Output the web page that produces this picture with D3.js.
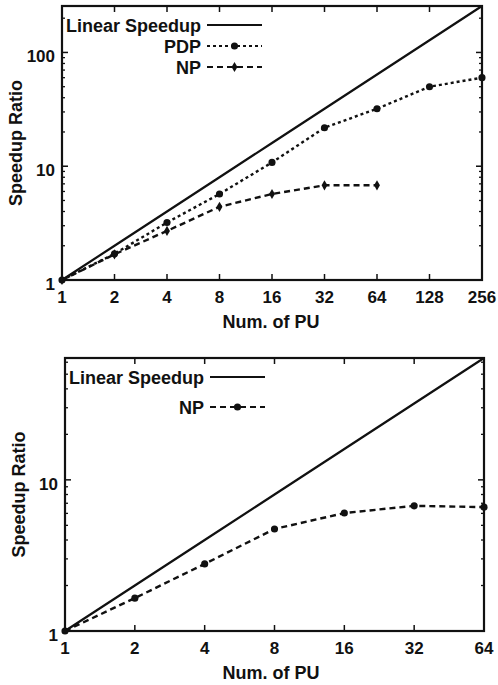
<!DOCTYPE html>
<html>
<head>
<meta charset="utf-8">
<script src="https://cdn.jsdelivr.net/npm/d3@7"></script>
<style>
  body { margin: 0; background: #fff; }
  svg text { font-family: "Liberation Sans", Arial, Helvetica, sans-serif; font-weight: bold; fill: #111; }
</style>
</head>
<body>
<svg id="fig" width="498" height="685"></svg>
<script>
// top chart data
const topPU = [1, 2, 4, 8, 16, 32, 64, 128, 256]
const topPDP = [1, 1.7, 3.2, 5.7, 10.8, 21.8, 32, 50, 60]
const topNPx = [1, 2, 4, 8, 16, 32, 64]
const topNP = [1, 1.68, 2.7, 4.4, 5.7, 6.8, 6.8]
const topYTicks = [1, 10, 100]

// bottom chart data
const botPU = [1, 2, 4, 8, 16, 32, 64]
const botNP = [1, 1.65, 2.78, 4.73, 6.03, 6.73, 6.6]
const botYTicks = [1, 10]

const svg = d3.select("#fig")
const ink = "#111"

function drawChart(cfg) {
    const x = d3.scaleLog().base(2).domain([1, cfg.maxX]).range([cfg.left, cfg.right])
    const y = d3.scaleLog().domain([1, cfg.maxX]).range([cfg.bottom, cfg.top])
    const g = svg.append("g")

    // minor y ticks (left and right, inward)
    const minors = []
    for (let dec = 1; dec < cfg.maxX; dec *= 10) {
        for (let k = 2; k <= 9; k++) if (dec * k <= cfg.maxX) minors.push(dec * k)
    }
    g.selectAll(".minL").data(minors).join("line")
        .attr("x1", cfg.left).attr("x2", cfg.left + 3)
        .attr("y1", d => y(d)).attr("y2", d => y(d))
        .attr("stroke", ink).attr("stroke-width", 1.3)
    g.selectAll(".minR").data(minors).join("line")
        .attr("x1", cfg.right).attr("x2", cfg.right - 3)
        .attr("y1", d => y(d)).attr("y2", d => y(d))
        .attr("stroke", ink).attr("stroke-width", 1.3)
    g.selectAll(".majL").data(cfg.yTicks).join("line")
        .attr("x1", cfg.left).attr("x2", cfg.left + 6)
        .attr("y1", d => y(d)).attr("y2", d => y(d))
        .attr("stroke", ink).attr("stroke-width", 1.5)
    g.selectAll(".majR").data(cfg.yTicks).join("line")
        .attr("x1", cfg.right).attr("x2", cfg.right - 6)
        .attr("y1", d => y(d)).attr("y2", d => y(d))
        .attr("stroke", ink).attr("stroke-width", 1.5)

    // x ticks bottom and top
    g.selectAll(".xtB").data(cfg.xs).join("line")
        .attr("x1", d => x(d)).attr("x2", d => x(d))
        .attr("y1", cfg.bottom).attr("y2", cfg.bottom - 6)
        .attr("stroke", ink).attr("stroke-width", 1.5)
    g.selectAll(".xtT").data(cfg.xs).join("line")
        .attr("x1", d => x(d)).attr("x2", d => x(d))
        .attr("y1", cfg.top).attr("y2", cfg.top + 6)
        .attr("stroke", ink).attr("stroke-width", 1.5)

    // tick labels
    g.selectAll(".xl").data(cfg.xs).join("text")
        .attr("x", d => x(d)).attr("y", cfg.bottom + 23)
        .attr("text-anchor", "middle").style("font-size", "17px")
        .text(d => d)
    g.selectAll(".yl").data(cfg.yTicks).join("text")
        .attr("x", cfg.left - 7).attr("y", d => y(d) + 10)
        .attr("text-anchor", "end").style("font-size", "17px")
        .text(d => d)

    // frame
    g.append("rect")
        .attr("x", cfg.left).attr("y", cfg.top)
        .attr("width", cfg.right - cfg.left).attr("height", cfg.bottom - cfg.top)
        .attr("fill", "none").attr("stroke", ink).attr("stroke-width", 2.2)

    // axis titles
    g.append("text")
        .attr("transform", `translate(${cfg.left - 40},${(cfg.top + cfg.bottom) / 2}) rotate(-90)`)
        .attr("text-anchor", "middle").style("font-size", "18px")
        .text("Speedup Ratio")
    g.append("text")
        .attr("x", 271).attr("y", cfg.bottom + 48)
        .attr("text-anchor", "middle").style("font-size", "18px")
        .text("Num. of PU")

    const line = d3.line().x(d => x(d[0])).y(d => y(d[1]))

    // linear speedup
    g.append("path")
        .attr("d", line(cfg.xs.map(v => [v, v])))
        .attr("fill", "none").attr("stroke", ink).attr("stroke-width", 2.2)

    // series
    cfg.series.forEach(s => {
        const pts = s.xs.map((v, i) => [v, s.ys[i]])
        g.append("path")
            .attr("d", line(pts))
            .attr("fill", "none").attr("stroke", ink).attr("stroke-width", 2.4)
            .attr("stroke-dasharray", s.dash)
        g.selectAll(null).data(pts).join("path")
            .attr("transform", d => `translate(${x(d[0])},${y(d[1])})`)
            .attr("d", d3.symbol().type(s.symbol).size(s.size))
            .attr("fill", ink)
    })

    // legend
    const lx0 = cfg.left + 145, lx1 = cfg.left + 200
    const entries = [{ name: "Linear Speedup", dash: null, symbol: null }].concat(cfg.series)
    entries.forEach((e, i) => {
        const ly = cfg.legendY[i]
        g.append("text")
            .attr("x", lx0 - 6).attr("y", ly + 7)
            .attr("text-anchor", "end").style("font-size", "18px")
            .text(e.name)
        g.append("line")
            .attr("x1", lx0).attr("x2", lx1).attr("y1", ly).attr("y2", ly)
            .attr("stroke", ink).attr("stroke-width", 2.2)
            .attr("stroke-dasharray", e.dash)
        if (e.symbol) {
            g.append("path")
                .attr("transform", `translate(${(lx0 + lx1) / 2},${ly})`)
                .attr("d", d3.symbol().type(e.symbol).size(e.size))
                .attr("fill", ink)
        }
    })
}

drawChart({
    left: 62, right: 482, top: 6, bottom: 280, maxX: 256,
    xs: topPU, yTicks: topYTicks, legendY: [25, 46, 67],
    series: [
        { name: "PDP", xs: topPU, ys: topPDP, dash: "3,3", symbol: d3.symbolCircle, size: 40 },
        { name: "NP", xs: topNPx, ys: topNP, dash: "6,4", symbol: d3.symbolDiamond, size: 30 }
    ]
})

drawChart({
    left: 65, right: 484, top: 358, bottom: 631, maxX: 64,
    xs: botPU, yTicks: botYTicks, legendY: [377, 407],
    series: [
        { name: "NP", xs: botPU, ys: botNP, dash: "6,4", symbol: d3.symbolCircle, size: 40 }
    ]
})
</script>
</body>
</html>
